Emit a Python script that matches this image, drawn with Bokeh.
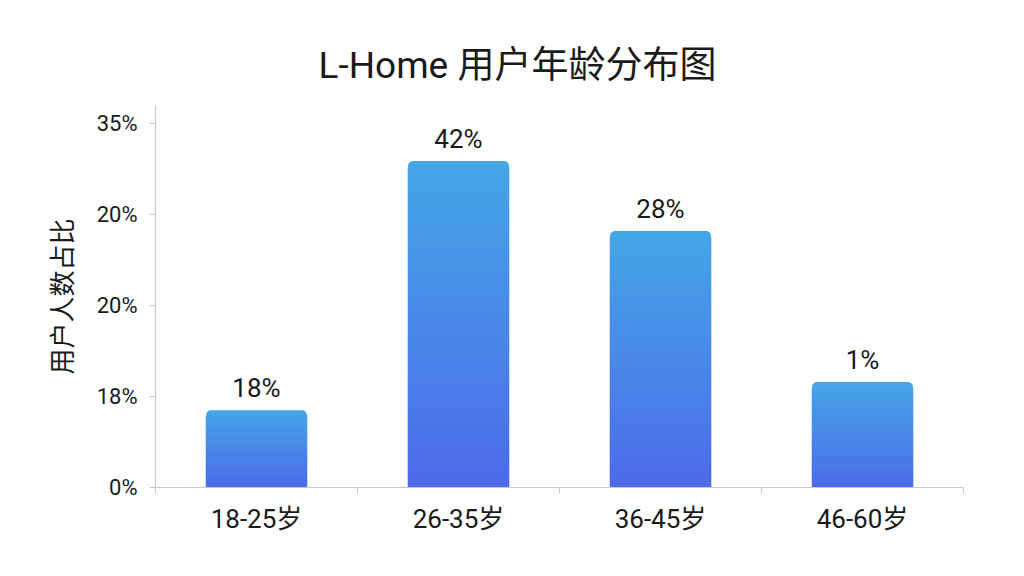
#L-Home user age distribution bar chart

import numpy as np
from bokeh.plotting import figure
from bokeh.models import FixedTicker, Range1d, Title
from bokeh.core.properties import value
from bokeh.embed import file_html
from bokeh.resources import INLINE

#Data

ages = ["18-25岁", "26-35岁", "36-45岁", "46-60岁"]
bar_heights = [8.5, 35.9, 28.2, 11.6]
bar_labels = ["18%", "42%", "28%", "1%"]
y_ticks = [0, 10, 20, 30, 40]
y_tick_labels = ["0%", "18%", "20%", "20%", "35%"]

FONT = "Roboto, 'Noto Sans CJK SC', sans-serif"
TEXT = "#1a1a1a"
AXIS = "#c8c8c8"
top_rgb = np.array([69, 166, 230])
bottom_rgb = np.array([78, 106, 234])

xs = [i + 0.5 for i in range(len(ages))]

#Create the figure

p = figure(width=1008, height=560, x_range=Range1d(0, len(ages)), y_range=Range1d(0, 42),
           output_backend="svg", toolbar_location=None,
           min_border_left=155, min_border_right=45, min_border_top=105, min_border_bottom=73)
p.outline_line_color = None
p.xgrid.visible = False
p.ygrid.visible = False

p.title = Title(text="L-Home 用户年龄分布图", align="left", offset=163, standoff=38,
                text_font_size="37px", text_font=FONT, text_font_style="normal", text_color=TEXT)

#Bars: rounded cap in the top colour, then a vertical gradient made of thin slices

bar_width = 0.5
cap = 0.7
p.vbar(x=xs, top=bar_heights, width=bar_width, fill_color="#%02x%02x%02x" % tuple(top_rgb),
       line_color=None, border_radius=(5, 5, 0, 0))

n = 60
sx, sb, st, sc = [], [], [], []
for x, h in zip(xs, bar_heights):
    edges = np.linspace(0, h - cap, n + 1)
    for k in range(n):
        mid = (edges[k] + edges[k + 1]) / 2
        t = mid / h
        rgb = bottom_rgb + (top_rgb - bottom_rgb) * t
        sx.append(x)
        sb.append(edges[k])
        st.append(edges[k + 1])
        sc.append("#%02x%02x%02x" % tuple(int(round(c)) for c in rgb))
p.vbar(x=sx, bottom=sb, top=st, width=bar_width, fill_color=sc, line_color=sc, line_width=0.6)

#Value labels above the bars

p.text(x=xs, y=bar_heights, text=bar_labels, text_align="center", text_baseline="alphabetic",
       y_offset=-22, text_font=value(FONT), text_font_size="26px", text_color=TEXT)

#Axes

p.xaxis.ticker = FixedTicker(ticks=xs, minor_ticks=list(range(len(ages) + 1)))
p.xaxis.major_label_overrides = {x: a for x, a in zip(xs, ages)}
p.xaxis.major_tick_line_color = None
p.xaxis.minor_tick_line_color = AXIS
p.xaxis.minor_tick_out = 6
p.xaxis.minor_tick_in = 0
p.xaxis.major_label_standoff = 10

p.yaxis.ticker = FixedTicker(ticks=y_ticks)
p.yaxis.major_label_overrides = {t: l for t, l in zip(y_ticks, y_tick_labels)}
p.yaxis.major_tick_line_color = AXIS
p.yaxis.major_tick_out = 6
p.yaxis.major_tick_in = 0
p.yaxis.minor_tick_line_color = None
p.yaxis.major_label_standoff = 12
p.yaxis.axis_label = "用户人数占比"
p.yaxis.axis_label_standoff = 16
p.yaxis.axis_label_text_font_size = "26px"
p.yaxis.axis_label_text_font_style = "normal"
p.yaxis.axis_label_text_font = FONT
p.yaxis.axis_label_text_color = TEXT

for ax in (p.xaxis, p.yaxis):
    ax.axis_line_color = AXIS
    ax.axis_line_width = 1.2
    ax.major_label_text_font = FONT
    ax.major_label_text_color = TEXT
p.xaxis.major_label_text_font_size = "26px"
p.yaxis.major_label_text_font_size = "22px"

open("out.html", "w").write(file_html(p, INLINE))
